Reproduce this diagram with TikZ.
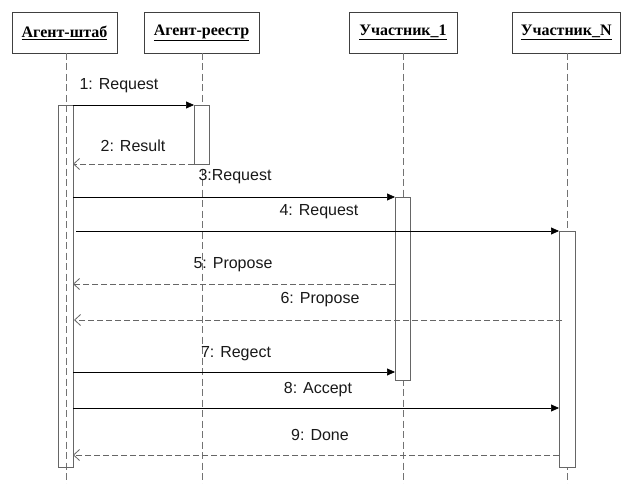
\documentclass[tikz,border=0pt]{standalone}
\usepackage{fontspec}
\setmainfont{Liberation Serif}
\newfontfamily\msgfont{Liberation Sans}
\usetikzlibrary{arrows.meta}
\newcommand{\headul}[1]{\underline{\smash{#1}\vphantom{x}}}
\begin{document}
\begin{tikzpicture}[x=1pt,y=-1pt,
  head/.style={draw=black!75, line width=0.9pt, fill=white, inner sep=0pt,
     minimum height=41pt, font=\fontsize{16}{17}\selectfont\bfseries},
  lifeline/.style={draw=black!55, line width=0.7pt, dash pattern=on 7pt off 3.5pt},
  actbar/.style={draw=black!60, line width=0.9pt, fill=white, inner sep=0pt},
  callmsg/.style={draw=black, line width=0.7pt, -{Triangle[length=8pt,width=7pt]}},
  retmsg/.style={draw=black!60, line width=0.8pt, dash pattern=on 6pt off 3pt,
     -{Straight Barb[length=6pt,width=11pt,line width=0.8pt]}},
  msglabel/.style={font=\msgfont\fontsize{16}{17}\selectfont, inner sep=0pt, text=black!90}
]
\useasboundingbox (0,0) rectangle (621,484);
\fill[white] (0,0) rectangle (621,484);

% header boxes
\node[head, minimum width=105pt] (h1) at (64.5,32.5) {\underline{Агент-штаб}};
\node[head, minimum width=115pt] (h2) at (201.5,32.5) {\underline{Агент-реестр}};
\node[head, minimum width=108pt] (h3) at (403,32.5) {\underline{Участник\_1}};
\node[head, minimum width=108.5pt] (h4) at (566.25,32.5) {\underline{Участник\_N}};

% lifelines
\coordinate (l1a) at (66,53);  \coordinate (l1b) at (66,484);
\coordinate (l2a) at (202,53); \coordinate (l2b) at (202,484);
\coordinate (l3a) at (403,53); \coordinate (l3b) at (403,484);
\coordinate (l4a) at (567,53); \coordinate (l4b) at (567,484);
\draw[lifeline] (l1a) -- (l1b);
\draw[lifeline] (l2a) -- (l2b);
\draw[lifeline] (l3a) -- (l3b);
\draw[lifeline] (l4a) -- (l4b);

% activation bars
\node[actbar, fill=none, minimum width=15pt, minimum height=362pt] (b1) at (65.5,286) {};
\node[actbar, minimum width=15pt, minimum height=59pt] (b2) at (201.5,134.5) {};
\node[actbar, minimum width=15pt, minimum height=183pt] (b3) at (402.5,288.5) {};
\node[actbar, minimum width=16pt, minimum height=236pt] (b4) at (567,349) {};

% message end points
\coordinate (m1s) at (73,105);  \coordinate (m1e) at (194,105);
\coordinate (m2s) at (194,164); \coordinate (m2e) at (73,164);
\coordinate (m3s) at (73,197);  \coordinate (m3e) at (395,197);
\coordinate (m4s) at (76,231);  \coordinate (m4e) at (559,231);
\coordinate (m5s) at (395,284); \coordinate (m5e) at (73,284);
\coordinate (m6s) at (562,320); \coordinate (m6e) at (74,320);
\coordinate (m7s) at (73,372);  \coordinate (m7e) at (395,372);
\coordinate (m8s) at (73,408);  \coordinate (m8e) at (559,408);
\coordinate (m9s) at (559,455); \coordinate (m9e) at (73,455);

\draw[callmsg] (m1s) -- (m1e);
\draw[retmsg]  (m2s) -- (m2e);
\draw[callmsg] (m3s) -- (m3e);
\draw[callmsg] (m4s) -- (m4e);
\draw[retmsg]  (m5s) -- (m5e);
\draw[retmsg]  (m6s) -- (m6e);
\draw[callmsg] (m7s) -- (m7e);
\draw[callmsg] (m8s) -- (m8e);
\draw[retmsg]  (m9s) -- (m9e);

% labels
\node[msglabel] (t1) at (119,86) {1: Request};
\node[msglabel] (t2) at (133,146) {2: Result};
\node[msglabel] (t3) at (235,177) {3:Request};
\node[msglabel] (t4) at (319,212) {4: Request};
\node[msglabel] (t5) at (233,265) {5: Propose};
\node[msglabel] (t6) at (320,300) {6: Propose};
\node[msglabel] (t7) at (236,354) {7: Regect};
\node[msglabel] (t8) at (318,390) {8: Accept};
\node[msglabel] (t9) at (320,435) {9: Done};
\end{tikzpicture}
\end{document}
